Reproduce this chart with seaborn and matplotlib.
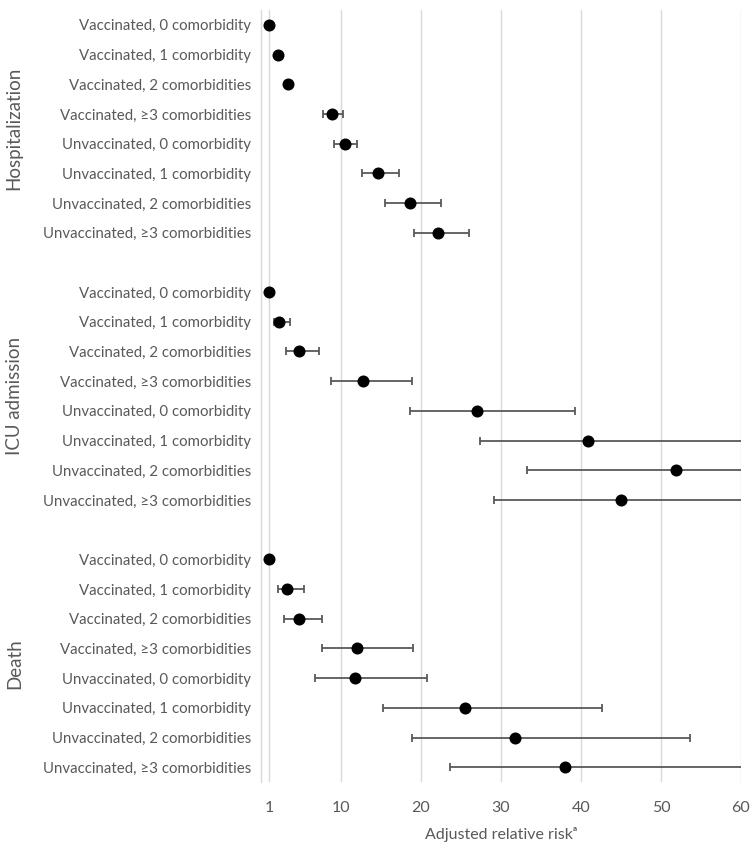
import pandas as pd
import seaborn as sns
import matplotlib.pyplot as plt
import matplotlib.transforms as mtransforms

groups = ['Hospitalization', 'ICU admission', 'Death']
rows = ['Vaccinated, 0 comorbidity', 'Vaccinated, 1 comorbidity',
        'Vaccinated, 2 comorbidities', 'Vaccinated, ≥3 comorbidities',
        'Unvaccinated, 0 comorbidity', 'Unvaccinated, 1 comorbidity',
        'Unvaccinated, 2 comorbidities', 'Unvaccinated, ≥3 comorbidities']

# point estimates and CI bounds, per group
hosp_rr = [1.0, 2.1, 3.4, 8.9, 10.5, 14.6, 18.6, 22.1]
hosp_lo = [1.0, 2.1, 3.4, 7.8, 9.1, 12.6, 15.5, 19.1]
hosp_hi = [1.0, 2.1, 3.4, 10.2, 12.0, 17.2, 22.5, 26.0]

icu_rr = [1.0, 2.3, 4.7, 12.8, 27.0, 40.9, 51.9, 45.0]
icu_lo = [1.0, 1.6, 3.1, 8.75, 18.6, 27.4, 33.3, 29.1]
icu_hi = [1.0, 3.6, 7.25, 18.9, 39.25, 64.0, 82.0, 70.0]

death_rr = [1.0, 3.3, 4.7, 12.0, 11.8, 25.5, 31.75, 38.0]
death_lo = [1.0, 2.1, 2.9, 7.6, 6.8, 15.3, 18.9, 23.6]
death_hi = [1.0, 5.4, 7.6, 19.0, 20.8, 42.6, 53.6, 63.0]

xticks = [1, 10, 20, 30, 40, 50, 60]

sns.set_style('white')
plt.rcParams['font.family'] = ['Lato', 'DejaVu Sans']

frames = []
for g, (rr, lo, hi) in enumerate([(hosp_rr, hosp_lo, hosp_hi),
                                  (icu_rr, icu_lo, icu_hi),
                                  (death_rr, death_lo, death_hi)]):
    frames.append(pd.DataFrame({'group': groups[g], 'row': rows,
                                'rr': rr, 'lo': lo, 'hi': hi,
                                'pos': [g * 9 + i for i in range(len(rows))]}))
df = pd.concat(frames, ignore_index=True)

fig = plt.figure(figsize=(7.5, 8.42), dpi=100)
ax = fig.add_axes([0.348, 0.0712, 0.64, 0.9169])

grey = '#595959'
for x in xticks:
    ax.axvline(x, color='#d9d9d9', lw=1, zorder=0)

ci = df[df['hi'] > df['lo']]
ax.errorbar(ci['rr'], ci['pos'], xerr=[ci['rr'] - ci['lo'], ci['hi'] - ci['rr']],
            fmt='none', ecolor=grey, elinewidth=1.3, capsize=3, capthick=1.3, zorder=2)
sns.scatterplot(data=df, x='rr', y='pos', color='black', s=75, edgecolor='black',
                linewidth=0, zorder=3, ax=ax, legend=False)

ax.set_xlim(0, 60)
ax.set_ylim(25.5, -0.5)
ax.set_xticks(xticks)
ax.set_yticks(df['pos'])
ax.set_yticklabels(df['row'])
ax.tick_params(axis='both', length=0, colors=grey)
ax.tick_params(axis='y', pad=7, labelsize=10.8)
ax.tick_params(axis='x', pad=14, labelsize=11.5)
for s in ['top', 'right', 'bottom']:
    ax.spines[s].set_visible(False)
ax.spines['left'].set_color('#d9d9d9')
ax.spines['left'].set_linewidth(1)

ax.set_xlabel('Adjusted relative riskᵃ', color=grey, fontsize=11.5, labelpad=8)
ax.set_ylabel('')

trans = mtransforms.blended_transform_factory(fig.transFigure, ax.transData)
for g, name in enumerate(groups):
    ax.text(0.019, g * 9 + 3.5, name, transform=trans, rotation=90,
            ha='center', va='center', color=grey, fontsize=13.5)

fig.savefig('out.png', dpi=100)
